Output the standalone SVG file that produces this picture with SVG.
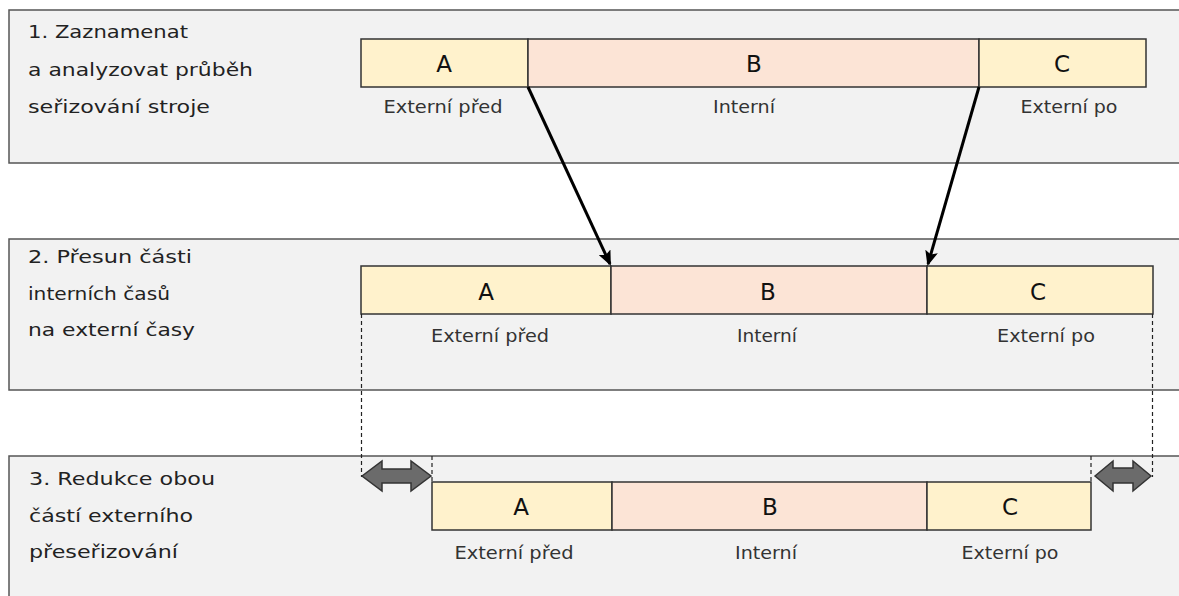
<svg xmlns="http://www.w3.org/2000/svg" width="1179" height="596" viewBox="0 0 1179 596">
<defs>
<style>
.panel{fill:#f2f2f2;stroke:#555;stroke-width:1.5}
.ac{fill:#fff2cc;stroke:#333;stroke-width:1.5}
.b{fill:#fce4d6;stroke:#333;stroke-width:1.5}
.title{font-family:"DejaVu Sans","Noto Sans",sans-serif;font-size:18px;fill:#222}
.lbl{font-family:"DejaVu Sans","Noto Sans",sans-serif;font-size:17px;fill:#333;text-anchor:middle}
.let{font-family:"DejaVu Sans","Noto Sans",sans-serif;font-size:23px;fill:#111;text-anchor:middle}
.dash{stroke:#222;stroke-width:1.2;stroke-dasharray:4 3;fill:none}
.arr{stroke:#000;stroke-width:3;fill:none;marker-end:url(#ah)}
.dbl{fill:#6b6b6b;stroke:#333;stroke-width:1.5;stroke-linejoin:miter}
</style>
<marker id="ah" markerWidth="15" markerHeight="13" refX="13" refY="6.5" orient="auto" markerUnits="userSpaceOnUse" viewBox="0 0 15 13">
<path d="M0,0 L15,6.5 L0,13 L3,6.5 Z" fill="#000"/>
</marker>
</defs>
<rect width="1179" height="596" fill="#ffffff"/>

<g id="panel1">
<rect class="panel" x="9" y="10" width="1180" height="153"/>
<text class="title" x="28" y="38" textLength="160" lengthAdjust="spacingAndGlyphs">1. Zaznamenat</text>
<text class="title" x="28" y="76" textLength="225" lengthAdjust="spacingAndGlyphs">a analyzovat průběh</text>
<text class="title" x="28" y="113" textLength="182" lengthAdjust="spacingAndGlyphs">seřizování stroje</text>
</g>
<g id="bar1">
<rect class="ac" x="361" y="39" width="167" height="48"/>
<rect class="b" x="528" y="39" width="451" height="48"/>
<rect class="ac" x="979" y="39" width="167" height="48"/>
<text class="let" x="444" y="72">A</text>
<text class="let" x="754" y="72">B</text>
<text class="let" x="1062" y="72">C</text>
<text class="lbl" x="443" y="113" textLength="119" lengthAdjust="spacingAndGlyphs">Externí před</text>
<text class="lbl" x="744" y="113" textLength="62" lengthAdjust="spacingAndGlyphs">Interní</text>
<text class="lbl" x="1069" y="113" textLength="97" lengthAdjust="spacingAndGlyphs">Externí po</text>
</g>

<g id="panel2">
<rect class="panel" x="9" y="239" width="1180" height="151"/>
<text class="title" x="28" y="263" textLength="164" lengthAdjust="spacingAndGlyphs">2. Přesun části</text>
<text class="title" x="28" y="300" textLength="142" lengthAdjust="spacingAndGlyphs">interních časů</text>
<text class="title" x="28" y="336" textLength="167" lengthAdjust="spacingAndGlyphs">na externí časy</text>
</g>
<g id="bar2">
<rect class="ac" x="361" y="266" width="250" height="48"/>
<rect class="b" x="611" y="266" width="316" height="48"/>
<rect class="ac" x="927" y="266" width="226" height="48"/>
<text class="let" x="486" y="300">A</text>
<text class="let" x="768" y="300">B</text>
<text class="let" x="1038" y="300">C</text>
<text class="lbl" x="490" y="342" textLength="118" lengthAdjust="spacingAndGlyphs">Externí před</text>
<text class="lbl" x="767" y="342" textLength="60" lengthAdjust="spacingAndGlyphs">Interní</text>
<text class="lbl" x="1046" y="342" textLength="98" lengthAdjust="spacingAndGlyphs">Externí po</text>
</g>

<g id="panel3">
<rect class="panel" x="9" y="456" width="1180" height="150"/>
<text class="title" x="29" y="485" textLength="186" lengthAdjust="spacingAndGlyphs">3. Redukce obou</text>
<text class="title" x="29" y="522" textLength="164" lengthAdjust="spacingAndGlyphs">částí externího</text>
<text class="title" x="29" y="558" textLength="149" lengthAdjust="spacingAndGlyphs">přeseřizování</text>
</g>
<g id="bar3">
<rect class="ac" x="432" y="482" width="180" height="48"/>
<rect class="b" x="612" y="482" width="315" height="48"/>
<rect class="ac" x="927" y="482" width="164" height="48"/>
<text class="let" x="521" y="515">A</text>
<text class="let" x="770" y="515">B</text>
<text class="let" x="1010" y="515">C</text>
<text class="lbl" x="514" y="559" textLength="119" lengthAdjust="spacingAndGlyphs">Externí před</text>
<text class="lbl" x="766" y="559" textLength="62" lengthAdjust="spacingAndGlyphs">Interní</text>
<text class="lbl" x="1010" y="559" textLength="97" lengthAdjust="spacingAndGlyphs">Externí po</text>
</g>

<g id="connectors">
<line class="arr" x1="528" y1="87" x2="610" y2="264"/>
<line class="arr" x1="979" y1="87" x2="928" y2="264"/>
<line class="dash" x1="361.5" y1="314" x2="361.5" y2="477"/>
<line class="dash" x1="1152.5" y1="314" x2="1152.5" y2="477"/>
<line class="dash" x1="432" y1="456" x2="432" y2="482"/>
<line class="dash" x1="1091" y1="456" x2="1091" y2="482"/>
<path class="dbl" d="M362,476 L382,461 L382,469 L411,469 L411,461 L431,476 L411,491 L411,483 L382,483 L382,491 Z"/>
<path class="dbl" d="M1095,476 L1113,461 L1113,468 L1133,468 L1133,461 L1151,476 L1133,491 L1133,483 L1113,483 L1113,491 Z"/>
</g>
</svg>
